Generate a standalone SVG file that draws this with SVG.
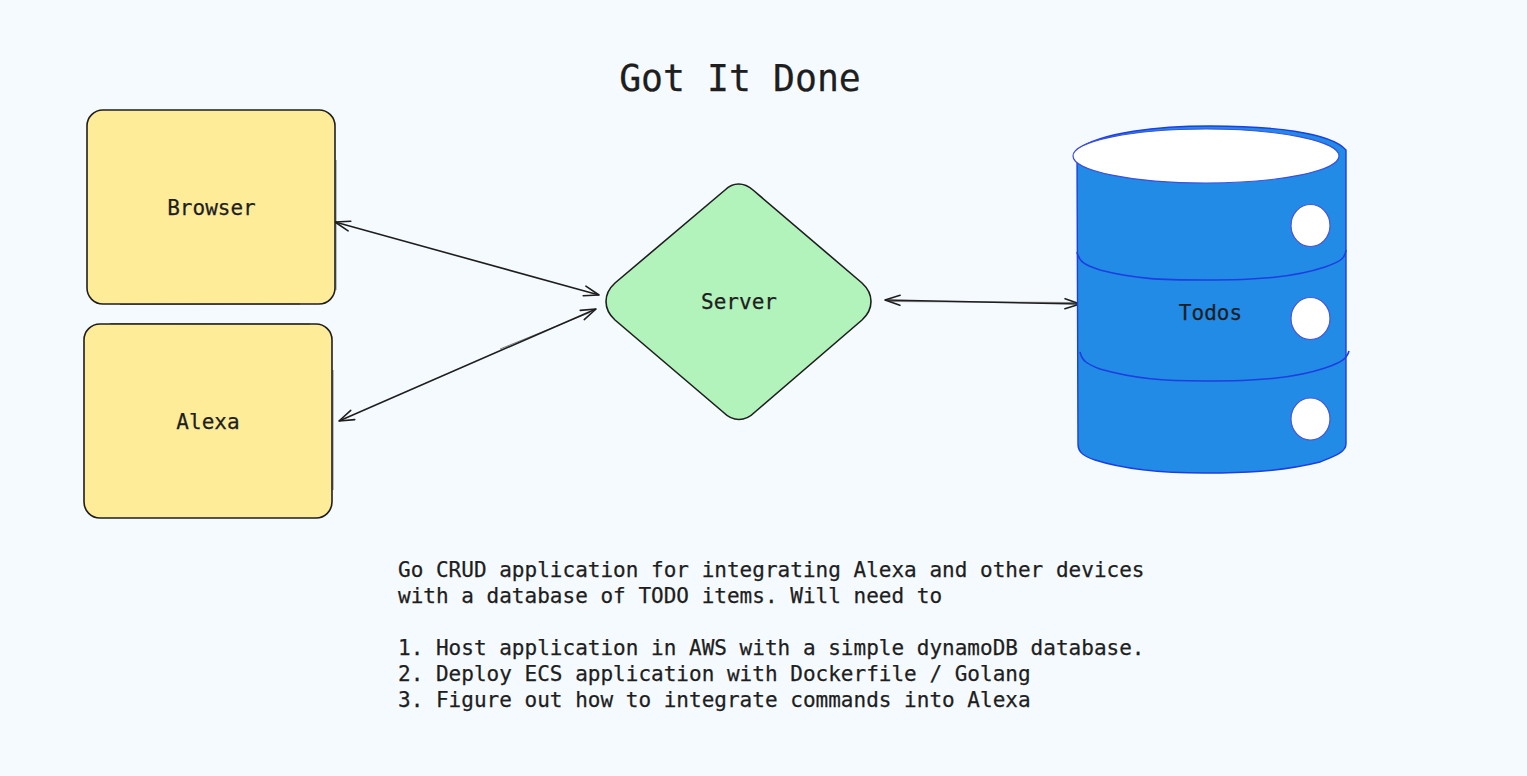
<svg xmlns="http://www.w3.org/2000/svg" width="1527" height="776" viewBox="0 0 1527 776">
<style>
text{font-family:"DejaVu Sans Mono","Liberation Mono",monospace;fill:#1e1e1e;stroke:#1e1e1e;stroke-width:.25}
.lbl{font-size:21.030px;text-anchor:middle}
.box{fill:#ffec99;stroke:#1e1e1e;stroke-width:1.6}
.rough{fill:none;stroke:#1e1e1e;stroke-width:1;opacity:.55}
.conn{fill:none;stroke:#1e1e1e;stroke-width:1.6;marker-start:url(#head);marker-end:url(#head)}
.db{fill:#228be6;stroke:#1c3fe0;stroke-width:1.4}
.seam{fill:none;stroke:#1c3fe0;stroke-width:1.6}
.hole{fill:#fff;stroke:#4a55d8;stroke-width:1.2}
</style>
<defs>
<marker id="head" markerUnits="userSpaceOnUse" markerWidth="24" markerHeight="24" refX="20" refY="12" orient="auto-start-reverse">
<path d="M5 7 L20 12 L5 17" fill="none" stroke="#1e1e1e" stroke-width="1.6" stroke-linecap="round" stroke-linejoin="round"/>
</marker>
</defs>
<rect width="1527" height="776" fill="#f5faff"/>
<g id="connectors">
<path class="conn" d="M335 222 L599 295"/>
<path class="conn" d="M339 421 L596 309"/>
<path class="conn" d="M885 300 L1080 304"/>
<path class="rough" d="M500 349 L590 312.500"/>
<path class="rough" d="M890 301.500 L1074 302.500"/>
</g>
<g id="browser">
<rect class="box" x="87" y="110" width="248" height="194" rx="16"/>
<path class="rough" d="M336 160 L336 290 M120 304.500 L300 304"/>
<text class="lbl" x="211.500" y="215">Browser</text>
</g>
<g id="alexa">
<rect class="box" x="84" y="324" width="248" height="194" rx="16"/>
<path class="rough" d="M333 370 L333 490 M110 323.500 L310 324"/>
<text class="lbl" x="208" y="429">Alexa</text>
</g>
<g id="server">
<path d="M725 190 C733 182 744 182 753 190 L862 283 C874 294 874 309 862 320 L755 412 C745 422 733 422 723 412 L615 320 C603 309 603 294 615 283 Z" fill="#b2f2bb" stroke="#1e1e1e" stroke-width="1.6"/>
<text class="lbl" x="739" y="309">Server</text>
</g>
<g id="todos">
<path class="db" d="M1077 150 C1100 132 1160 126 1210 126 C1270 126 1330 132 1346 150 L1346 444 C1346 452 1335 456 1320 462 C1280 472 1240 473 1205 473 C1160 473 1120 468 1095 460 C1080 455 1078 450 1078 444 Z"/>
<path class="seam" d="M1077 252 C1079 262 1085 265 1100 270 C1135 279 1160 280 1205 280 C1260 280 1295 277 1325 267 C1342 261 1345 258 1346 250"/>
<path class="seam" d="M1080 352 C1082 361 1087 364 1100 369 C1135 379 1165 381 1205 381 C1260 381 1295 378 1325 368 C1343 362 1347 358 1349 351"/>
<ellipse cx="1206" cy="156" rx="133" ry="27" fill="#fff" stroke="#3f4fdc" stroke-width="1.2"/>
<ellipse class="hole" cx="1310.500" cy="225.500" rx="19.500" ry="21"/>
<ellipse class="hole" cx="1310.500" cy="318.500" rx="19.500" ry="21"/>
<ellipse class="hole" cx="1310.500" cy="419" rx="19.500" ry="21"/>
<text class="lbl" x="1210.500" y="320">Todos</text>
</g>
<g id="title">
<text x="740" y="91" font-size="36.500" text-anchor="middle">Got It Done</text>
</g>
<g id="description" font-size="21.030">
<text x="398" y="577">Go CRUD application for integrating Alexa and other devices</text>
<text x="398" y="603">with a database of TODO items. Will need to</text>
<text x="398" y="655">1. Host application in AWS with a simple dynamoDB database.</text>
<text x="398" y="681">2. Deploy ECS application with Dockerfile / Golang</text>
<text x="398" y="707">3. Figure out how to integrate commands into Alexa</text>
</g>
</svg>
